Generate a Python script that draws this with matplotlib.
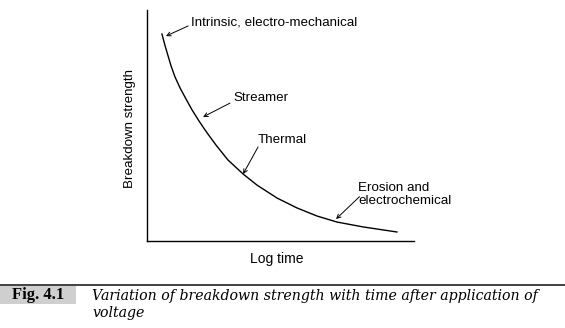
import matplotlib.pyplot as plt
from matplotlib.patches import Rectangle
from matplotlib.lines import Line2D

# breakdown strength vs log time (arbitrary units, 0-100)
log_time = [5.6, 6.7, 7.9, 9.0, 10.5, 12.4, 14.6, 16.9, 19.5, 22.5, 25.8,
            30.3, 36.0, 41.2, 48.7, 56.2, 63.7, 71.2, 80.9, 93.6]
strength = [89.6, 84.8, 80.1, 75.8, 71.0, 66.2, 61.5, 56.7, 51.9, 46.8, 41.6,
            35.1, 29.0, 24.2, 18.6, 14.3, 10.8, 8.2, 6.1, 3.9]

# mechanism labels: text, text position, arrow tail, arrow tip
labels = ["Intrinsic, electro-mechanical", "Streamer", "Thermal",
          "Erosion and\nelectrochemical"]
label_xy = [(16.5, 94.8), (32.2, 61.9), (41.6, 43.7), (79.0, 20.3)]
tail_xy = [(15.4, 93.1), (31.1, 59.7), (41.6, 40.7), (79.6, 19.2)]
tip_xy = [(7.1, 88.7), (21.0, 53.7), (36.0, 29.0), (70.8, 9.5)]

plt.rcParams['font.family'] = ['Liberation Sans', 'DejaVu Sans']

W, H = 565, 328
fig = plt.figure(figsize=(W / 100, H / 100), dpi=100)
ax = fig.add_axes([147 / W, 1 - 241 / H, 267 / W, 231 / H])

ax.plot(log_time, strength, color='black', lw=1.0)
ax.set_xlim(0, 100)
ax.set_ylim(0, 100)
ax.set_xticks([])
ax.set_yticks([])
for s in ['top', 'right']:
    ax.spines[s].set_visible(False)
for s in ['left', 'bottom']:
    ax.spines[s].set_linewidth(1.0)

for text, txy, a, b in zip(labels, label_xy, tail_xy, tip_xy):
    ax.text(txy[0], txy[1], text, fontsize=9.6, va='center', ha='left',
            linespacing=1.1)
    ax.annotate('', xy=b, xytext=a,
                arrowprops=dict(arrowstyle='->', lw=0.7, color='black',
                                shrinkA=0, shrinkB=0, mutation_scale=7))

fig.text(130 / W, 1 - 128 / H, 'Breakdown strength', rotation=90,
         fontsize=9.6, ha='center', va='center')
fig.text(277 / W, 1 - 259 / H, 'Log time', fontsize=10,
         ha='center', va='center')

# caption strip
fig.add_artist(Line2D([0, 1], [1 - 285 / H, 1 - 285 / H], color='#333333',
                      lw=1.3, transform=fig.transFigure))
fig.add_artist(Rectangle((0, 1 - 304 / H), 76 / W, 18 / H,
                         transform=fig.transFigure, facecolor='#cfcfcf',
                         edgecolor='none', hatch='....'))
fig.text(12 / W, 1 - 295 / H, 'Fig. 4.1', fontsize=12, fontweight='bold',
         family='Liberation Serif', va='center', ha='left')
fig.text(92 / W, 1 - 296 / H,
         'Variation of breakdown strength with time after application of',
         fontsize=10.2, style='italic', family='DejaVu Serif',
         va='center', ha='left')
fig.text(92 / W, 1 - 313 / H, 'voltage', fontsize=10.2, style='italic',
         family='DejaVu Serif', va='center', ha='left')

fig.savefig('out.png', dpi=100)
